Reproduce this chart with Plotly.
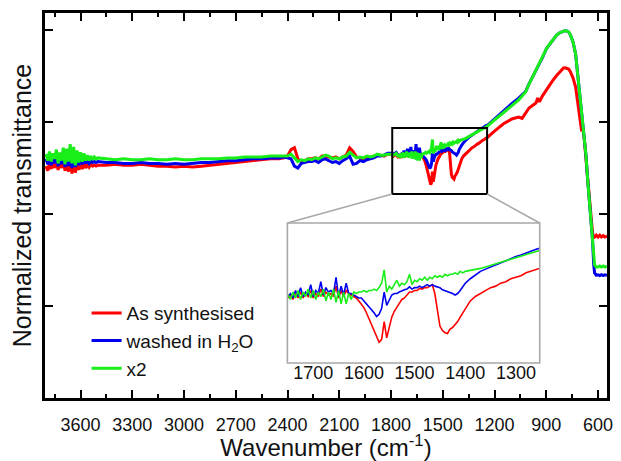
import plotly.graph_objects as go

# ---------------- data ----------------
wavenumber = (list(range(3800, 3499, -10)) + list(range(3450, 2449, -50)) +
              list(range(2420, 1799, -20)) + [1785, 1770, 1760] +
              list(range(1750, 1399, -5)) + list(range(1390, 1249, -10)) +
              [1240, 1200, 1150, 1100, 1060, 1040, 1020, 1000, 980, 960,
               950, 940, 920, 900, 880, 860, 840, 820, 800, 790,
               780, 770, 760, 745, 730, 715, 705, 700, 695, 690,
               680, 670, 660, 650, 640, 632, 625, 620, 610, 600,
               590, 580, 570, 560, 548])

as_synthesised = (
    [152, 147, 155, 149, 156, 150, 158, 148, 157, 150, 160, 147, 158, 146, 162, 144,
     157, 145, 155, 148, 154, 149, 155, 150, 154, 151, 154, 152, 153, 152, 153] +
    [153, 154, 153, 153, 154, 153, 152, 152, 151, 152, 151, 152, 153, 154, 155, 156,
     157, 158, 159, 160, 160] +
    [161, 163, 170, 172, 160, 157, 158, 160, 160, 161, 160, 163, 163, 162, 161, 162,
     160, 162, 164, 172, 168, 162, 161, 160, 162, 161, 163, 164, 164, 163, 165, 165] +
    [163, 165, 162] +
    [162, 164, 161, 165, 162, 166, 162, 165, 163, 167,
     162, 165, 163, 168, 163, 166, 164, 165, 163, 170,
     162, 167, 163, 167, 165, 164, 163, 162, 160, 158,
     155.5, 152, 148, 145, 140, 136, 132, 134, 146, 135,
     142, 149, 153, 156, 159, 161, 162, 164, 166, 166,
     167, 167, 168.5, 168, 169, 169, 170, 171, 165, 153,
     143, 140, 138.5, 138, 141, 142, 144, 146, 149, 152, 154.5] +
    [160, 163, 165, 167, 169, 170, 172, 173, 175, 176, 177, 179, 180, 181, 182] +
    [183.5, 190.2, 197.8, 203.3, 205.4, 204, 210, 215.2, 218, 220.7,
     226, 222, 229, 234.8, 240, 245.7, 250.5, 255, 258.7, 259,
     258.7, 257.6, 254.5, 248, 238, 218, 205, 196, 190, 195,
     182, 160, 137, 112, 93, 80, 74, 75, 77, 75,
     77, 75, 76.5, 75, 76])

washed_h2o = (
    [160, 154, 163, 153, 162, 155, 165, 152, 163, 154, 167, 151, 165, 152, 169, 150,
     166, 151, 162, 153, 160, 154, 160, 155, 158, 155, 158, 156, 157, 156, 157] +
    [156, 156, 155, 155, 156, 155, 155, 154, 155, 154, 155, 156, 156, 157, 158, 158,
     159, 160, 160, 161, 161] +
    [162, 161, 160, 152, 150, 155, 156, 157, 157, 158, 156, 159, 160, 158, 156, 157,
     155, 158, 160, 163, 154, 155, 158, 157, 159, 160, 161, 163, 163, 164, 166, 166] +
    [165, 167, 164] +
    [163, 165, 162, 167, 163, 169, 163, 166, 164, 171,
     163, 167, 165, 173, 164, 169, 166, 167, 165, 176,
     163, 170, 164, 172, 165, 165, 164, 163, 162, 162,
     160, 158.5, 156, 154, 152, 149.5, 151, 155, 166, 157,
     161, 164, 165, 165, 166, 167, 167.5, 168, 169.5, 168,
     169, 169, 170, 169, 170, 171, 170, 171, 170, 169.5,
     169, 167.5, 167, 166.5, 166, 165, 164, 165, 167, 170, 172] +
    [175, 177.5, 180, 181.5, 183, 184.5, 186, 187, 188.5, 190, 191, 192.5, 193.5, 195, 196] +
    [196.5, 203.5, 212, 220, 226, 229.5, 233, 241.5, 249, 255.4,
     258.7, 263.1, 270.7, 279.4, 284.8, 290.2, 294.6, 297.3, 298.9, 299.5,
     298.9, 297.8, 294.6, 287, 273.9, 247.8, 227.2, 218.5, 212, 204,
     186, 164, 137, 113, 93.5, 72, 45, 36, 33.5, 34,
     33, 34, 33, 34, 33.5])

x2_series = (
    [165, 158, 168, 157, 166, 160, 170, 155, 167, 158, 172, 154, 171, 157, 176, 155,
     173, 153, 169, 156, 167, 157, 166, 158, 164, 158, 163, 159, 162, 160, 161] +
    [160, 159, 160, 159, 159, 160, 159, 159, 160, 159, 159, 160, 160, 160, 161, 161,
     162, 162, 162, 163, 163] +
    [163, 163, 165, 161, 157, 159, 158, 160, 159, 161, 160, 162, 164, 163, 160, 161,
     160, 162, 163, 167, 164, 161, 162, 161, 163, 162, 163, 165, 164, 164, 165, 165] +
    [164, 166, 163] +
    [164, 161, 166, 162, 167, 161, 166, 163, 168, 162,
     167, 161, 166, 163, 168, 160, 166, 161, 168, 159,
     167, 158, 166, 158, 165, 161, 166, 165, 166, 166,
     167, 166, 167, 167, 168, 167, 169, 172, 181, 166,
     170, 168, 171, 174, 170, 172, 171, 173, 178, 171,
     174, 173, 175, 174, 176, 174, 176, 175, 177, 176,
     177, 176, 178, 177, 178, 178, 179, 178, 180, 179, 180] +
    [180.5, 181, 182, 183, 184, 185, 186, 187.5, 188, 189, 190, 191, 192, 193.5, 194.5] +
    [195.7, 202.2, 209.8, 217.4, 223.9, 228.3, 232.6, 241.3, 248.9, 255.4,
     258.7, 263.1, 270.7, 279.4, 284.8, 290.2, 294.6, 297.3, 298.9, 299.5,
     298.9, 297.8, 294.6, 287, 273.9, 247.8, 227.2, 218.5, 210.9, 202.2,
     185.9, 164.1, 137, 113, 93.5, 71.7, 50, 44.6, 42.4, 42.4,
     43.5, 42.4, 43.5, 42.4, 43.5])

series_names = ["As synthesised", "washed in H<sub>2</sub>O", "x2"]
series_colors = ["#ff0000", "#0000ee", "#19ee19"]
series_values = [as_synthesised, washed_h2o, x2_series]

x_ticks_main = [3600, 3300, 3000, 2700, 2400, 2100, 1800, 1500, 1200, 900, 600]
x_ticks_inset = [1700, 1600, 1500, 1400, 1300]
y_ticks_main = [0, 100, 200, 300]

# ---------------- layout parameters ----------------
X_RANGE = [3806, 548]
Y_RANGE = [-100, 318.5]
INSET_X = [1751, 1253]
INSET_Y = [118, 212.7]
INSET_DOM_X = [0.4313, 0.8803]
INSET_DOM_Y = [0.0909, 0.4545]
INSET_LABEL_POS = 0.0987
ZOOM_BOX = dict(x0=1793, x1=1243, y0=121.7, y1=193.5)
FONT = "Arial, 'Liberation Sans', sans-serif"
GRAY = "#a8a8a8"

fig = go.Figure()
for name, color, vals in zip(series_names, series_colors, series_values):
    fig.add_trace(go.Scatter(x=wavenumber, y=vals, mode="lines", name=name,
                             line=dict(color=color, width=3), xaxis="x", yaxis="y"))
for name, color, vals in zip(series_names, series_colors, series_values):
    fig.add_trace(go.Scatter(x=wavenumber, y=vals, mode="lines", name=name, showlegend=False,
                             line=dict(color=color, width=1.6), xaxis="x2", yaxis="y2"))

def paper_to_main(px, py):
    return (X_RANGE[0] + px * (X_RANGE[1] - X_RANGE[0]),
            Y_RANGE[0] + py * (Y_RANGE[1] - Y_RANGE[0]))

tl = paper_to_main(INSET_DOM_X[0], INSET_DOM_Y[1])
tr = paper_to_main(INSET_DOM_X[1], INSET_DOM_Y[1])
shapes = [
    dict(type="rect", xref="x", yref="y", **ZOOM_BOX, line=dict(color="black", width=2)),
    dict(type="line", xref="x", yref="y", x0=ZOOM_BOX["x0"], y0=ZOOM_BOX["y0"], x1=tl[0], y1=tl[1],
         line=dict(color=GRAY, width=1.6)),
    dict(type="line", xref="x", yref="y", x0=ZOOM_BOX["x1"], y0=ZOOM_BOX["y0"], x1=tr[0], y1=tr[1],
         line=dict(color=GRAY, width=1.6)),
    dict(type="rect", xref="paper", yref="paper", x0=INSET_DOM_X[0], x1=INSET_DOM_X[1],
         y0=INSET_DOM_Y[0], y1=INSET_DOM_Y[1], line=dict(color=GRAY, width=1.6)),
]

axis_common = dict(showgrid=False, zeroline=False, showline=True, linecolor="black", linewidth=2.5,
                   mirror="ticks", ticks="inside", tickcolor="black", ticklen=8, tickwidth=2)

fig.update_layout(
    width=621, height=461,
    margin=dict(l=45, r=8, t=13, b=63),
    paper_bgcolor="white", plot_bgcolor="white",
    font=dict(family=FONT, color="#111111"),
    shapes=shapes,
    xaxis=dict(**axis_common, range=X_RANGE, tickvals=x_ticks_main, ticklabelstandoff=9,
               tickfont=dict(size=18),
               minor=dict(ticks="inside", ticklen=4, tickwidth=2, tickcolor="black", dtick=150, tick0=600),
               title=dict(text="Wavenumber (cm<sup>-1</sup>)", font=dict(size=24), standoff=0)),
    yaxis=dict(**axis_common, range=Y_RANGE, tickvals=y_ticks_main, showticklabels=False,
               title=dict(text="Normalized transmittance", font=dict(size=25), standoff=4)),
    xaxis2=dict(domain=INSET_DOM_X, anchor="free", position=INSET_LABEL_POS, range=INSET_X,
                tickvals=x_ticks_inset, showgrid=False, zeroline=False, showline=False,
                ticks="", ticklen=0, tickfont=dict(size=18)),
    yaxis2=dict(domain=INSET_DOM_Y, anchor="x2", range=INSET_Y, showticklabels=False,
                showgrid=False, zeroline=False, showline=False, ticks=""),
    legend=dict(x=0.074, y=0.27, xanchor="left", yanchor="top", bgcolor="rgba(0,0,0,0)",
                font=dict(size=19), tracegroupgap=0),
    showlegend=True,
)

fig.write_html("out.html")
